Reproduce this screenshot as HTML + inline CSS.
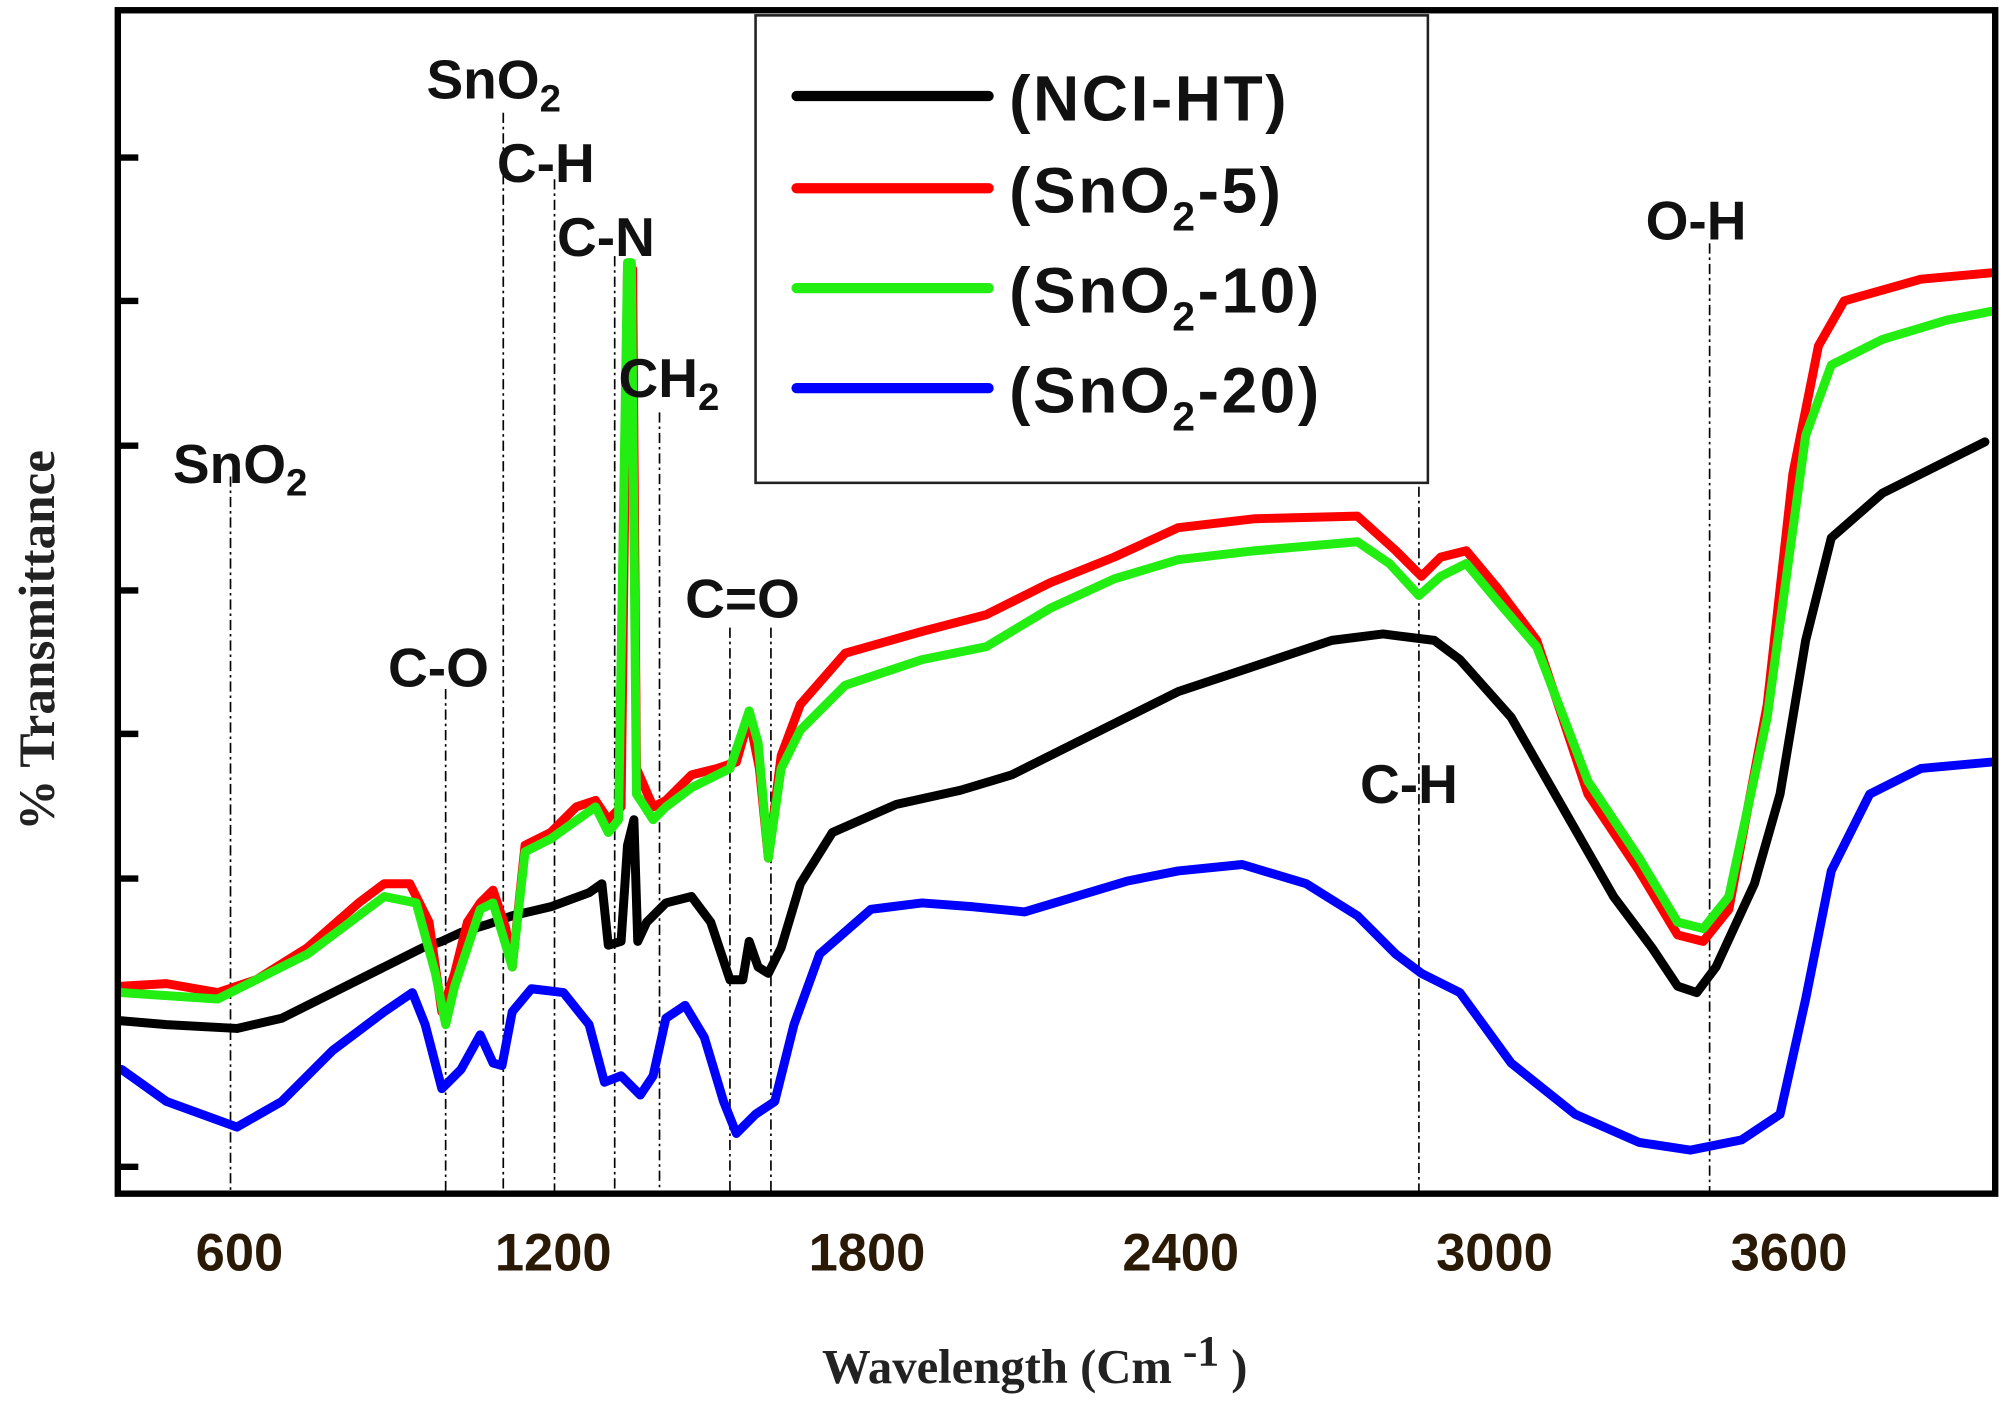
<!DOCTYPE html>
<html><head><meta charset="utf-8"><style>html,body{margin:0;padding:0;background:#fff}svg{display:block}</style></head>
<body>
<svg width="2008" height="1405" viewBox="0 0 1568 1097" preserveAspectRatio="none" xmlns="http://www.w3.org/2000/svg">
<rect x="0" y="0" width="1568" height="1097" fill="#fff"/>
<g stroke="#000" stroke-width="1.3" stroke-dasharray="8,3,2,3" fill="none">
<line x1="180" y1="372" x2="180" y2="930"/>
<line x1="348" y1="538" x2="348" y2="930"/>
<line x1="393" y1="88" x2="393" y2="930"/>
<line x1="433" y1="140" x2="433" y2="930"/>
<line x1="480" y1="200" x2="480" y2="930"/>
<line x1="515" y1="322" x2="515" y2="930"/>
<line x1="570" y1="490" x2="570" y2="930"/>
<line x1="602" y1="490" x2="602" y2="930"/>
<line x1="1108" y1="380" x2="1108" y2="930"/>
<line x1="1335" y1="190" x2="1335" y2="930"/>
</g>
<g fill="none" stroke-width="7" stroke-linejoin="round" stroke-linecap="round">
<polyline stroke="#000" points="95,797 130,800 185,803 220,795 260,775 300,755 330,740 345,735 360,728 380,722 400,715 430,708 460,697 470,690 475,738 485,735 490,660 495,640 498,735 505,720 520,705 540,700 555,720 570,765 580,765 585,735 592,755 600,760 610,740 625,690 650,650 700,628 750,617 790,605 830,585 870,565 920,540 980,520 1040,500 1080,495 1120,500 1140,515 1180,560 1220,630 1260,700 1290,740 1310,770 1325,775 1340,755 1370,690 1390,620 1410,500 1430,420 1470,385 1520,360 1550,345"/>
<polyline stroke="#ff0000" points="95,770 130,768 170,775 200,765 240,740 280,705 300,690 320,690 335,720 345,790 355,760 365,720 375,705 385,695 395,725 400,755 410,660 430,650 450,630 465,625 475,640 485,630 490,210 494,210 497,600 510,630 520,625 540,605 560,600 575,595 585,560 593,600 600,670 610,590 625,550 660,510 720,493 770,480 820,455 870,435 920,412 980,405 1060,403 1090,430 1110,450 1125,435 1145,430 1170,460 1200,500 1240,620 1280,680 1310,730 1330,735 1350,710 1380,550 1400,370 1420,270 1440,235 1500,218 1555,213"/>
<polyline stroke="#22ee11" points="95,775 170,780 240,745 300,700 325,705 340,760 348,800 355,770 375,710 385,705 400,755 410,665 430,655 465,630 475,650 483,640 490,205 493,205 497,620 510,640 520,630 540,615 570,600 585,555 592,580 600,670 610,600 625,570 660,535 720,515 770,505 820,475 870,452 920,437 980,430 1060,423 1085,440 1108,465 1125,450 1145,440 1170,470 1200,505 1240,610 1280,670 1310,720 1330,725 1350,700 1380,560 1410,340 1430,285 1470,265 1520,250 1555,243"/>
<polyline stroke="#0000ff" points="95,835 130,860 185,880 220,860 260,820 300,790 322,775 332,800 345,850 360,835 375,808 385,830 392,832 400,790 415,772 440,775 460,800 472,845 485,840 500,855 510,840 520,795 535,785 550,810 565,860 575,885 590,870 605,860 620,800 640,745 680,710 720,705 760,708 800,712 840,700 880,688 920,680 970,675 1020,690 1060,715 1090,745 1110,760 1140,775 1180,830 1230,870 1280,892 1320,898 1360,890 1390,870 1410,780 1430,680 1460,620 1500,600 1555,595"/>
</g>
<rect x="92" y="8" width="1466" height="924" fill="none" stroke="#000" stroke-width="5"/>
<g stroke="#000" stroke-width="5">
<line x1="92" y1="123" x2="108" y2="123"/><line x1="92" y1="235" x2="108" y2="235"/>
<line x1="92" y1="348" x2="108" y2="348"/><line x1="92" y1="461" x2="108" y2="461"/>
<line x1="92" y1="573" x2="108" y2="573"/><line x1="92" y1="686" x2="108" y2="686"/>
<line x1="92" y1="798" x2="108" y2="798"/><line x1="92" y1="911" x2="108" y2="911"/>
</g>
<rect x="590" y="12" width="525" height="365" fill="#fff" stroke="#222" stroke-width="2"/>
<g stroke-width="8" stroke-linecap="round">
<line x1="622" y1="75" x2="772" y2="75" stroke="#000"/>
<line x1="622" y1="147" x2="772" y2="147" stroke="#ff0000"/>
<line x1="622" y1="225" x2="772" y2="225" stroke="#22ee11"/>
<line x1="622" y1="303" x2="772" y2="303" stroke="#0000ff"/>
</g>
<g font-family="Liberation Sans, sans-serif" font-weight="bold" font-size="50" fill="#111" letter-spacing="2">
<text x="788" y="94">(NCI-HT)</text>
<text x="788" y="166">(SnO<tspan font-size="32" dy="14">2</tspan><tspan dy="-14">-5)</tspan></text>
<text x="788" y="244">(SnO<tspan font-size="32" dy="14">2</tspan><tspan dy="-14">-10)</tspan></text>
<text x="788" y="322">(SnO<tspan font-size="32" dy="14">2</tspan><tspan dy="-14">-20)</tspan></text>
</g>
<g font-family="Liberation Sans, sans-serif" font-size="43" font-weight="600" fill="#111">
<text x="135" y="377">SnO<tspan font-size="30" dy="10">2</tspan></text>
<text x="333" y="77">SnO<tspan font-size="30" dy="10">2</tspan></text>
<text x="388" y="142">C-H</text>
<text x="435" y="200">C-N</text>
<text x="483" y="310">CH<tspan font-size="30" dy="10">2</tspan></text>
<text x="535" y="482">C=O</text>
<text x="303" y="536">C-O</text>
<text x="1062" y="627">C-H</text>
<text x="1285" y="187">O-H</text>
</g>
<g font-family="Liberation Sans, sans-serif" font-weight="bold" font-size="41" fill="#2a1a05" text-anchor="middle">
<text x="187" y="992">600</text><text x="432" y="992">1200</text><text x="677" y="992">1800</text>
<text x="922" y="992">2400</text><text x="1167" y="992">3000</text><text x="1397" y="992">3600</text>
</g>
<text x="808" y="1080" font-family="Liberation Serif, serif" font-weight="bold" font-size="38" fill="#222" text-anchor="middle">Wavelength (Cm<tspan font-size="34" dy="-14"> -1</tspan><tspan dy="14"> )</tspan></text>
<text transform="translate(42,500) rotate(-90)" font-family="Liberation Serif, serif" font-weight="bold" font-size="40" fill="#222" text-anchor="middle">% Transmittance</text>
</svg>
</body></html>
